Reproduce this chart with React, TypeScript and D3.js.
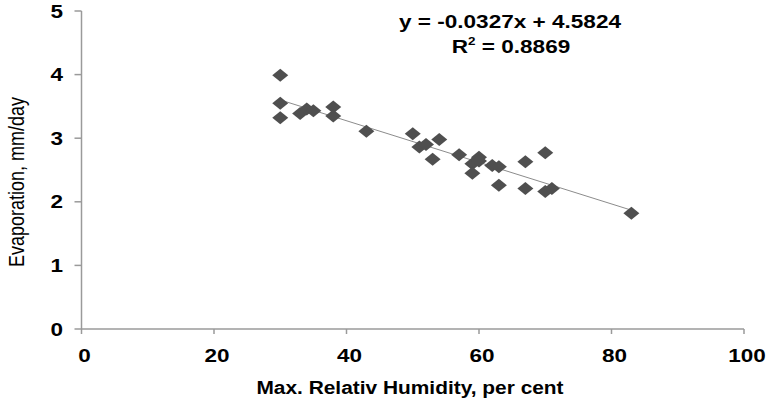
import React, { useEffect, useRef } from 'react';
import * as d3 from 'd3';

const humidity = [30, 30, 30, 33, 34, 35, 38, 38, 43, 50, 51, 52, 53, 54, 57, 59, 59, 60, 60, 62, 63, 63, 67, 67, 70, 70, 71, 83];
const evaporation = [3.99, 3.55, 3.32, 3.39, 3.46, 3.43, 3.49, 3.35, 3.11, 3.07, 2.86, 2.9, 2.67, 2.98, 2.74, 2.6, 2.45, 2.7, 2.64, 2.57, 2.55, 2.26, 2.63, 2.21, 2.77, 2.16, 2.21, 1.82];
const xTicks = [0, 20, 40, 60, 80, 100];
const yTicks = [0, 1, 2, 3, 4, 5];
const slope = -0.0327;
const intercept = 4.5824;
const equationText = 'y = -0.0327x + 4.5824';
const r2Value = '0.8869';

const App: React.FC = () => {
    const containerRef = useRef<HTMLDivElement>(null);

    useEffect(() => {
        if (!containerRef.current) return;
        drawChart();
    }, []);

    const drawChart = () => {
        const width = 766;
        const height = 403;
        const font = '"Liberation Sans", Arial, sans-serif';
        const axisColor = '#9a9a9a';
        // the picture is slightly stretched sideways, so text is too
        const stretch = 1.25;

        const container = d3.select(containerRef.current);
        container.selectAll('*').remove();

        const svg = container
            .append('svg')
            .attr('width', width)
            .attr('height', height)
            .style('display', 'block')
            .style('background', '#fff');

        const x = d3.scaleLinear().domain([0, 100]).range([81.5, 744]);
        const y = d3.scaleLinear().domain([0, 5]).range([329, 11]);

        // axes lines
        svg.append('line')
            .attr('x1', x(0)).attr('x2', x(100))
            .attr('y1', y(0)).attr('y2', y(0))
            .attr('stroke', axisColor).attr('stroke-width', 1.5);
        svg.append('line')
            .attr('x1', x(0)).attr('x2', x(0))
            .attr('y1', y(0)).attr('y2', y(5))
            .attr('stroke', axisColor).attr('stroke-width', 1.5);

        svg.append('g')
            .selectAll('line')
            .data(xTicks)
            .enter()
            .append('line')
            .attr('x1', (d: number) => x(d)).attr('x2', (d: number) => x(d))
            .attr('y1', y(0)).attr('y2', y(0) + 5)
            .attr('stroke', axisColor).attr('stroke-width', 1.5);

        svg.append('g')
            .selectAll('line')
            .data(yTicks)
            .enter()
            .append('line')
            .attr('x1', x(0) - 7).attr('x2', x(0))
            .attr('y1', (d: number) => y(d)).attr('y2', (d: number) => y(d))
            .attr('stroke', axisColor).attr('stroke-width', 1.5);

        svg.append('g')
            .selectAll('text')
            .data(xTicks)
            .enter()
            .append('text')
            .attr('transform', (d: number) => `translate(${x(d) + 3},362) scale(${stretch},1)`)
            .attr('text-anchor', 'middle')
            .style('font-family', font)
            .style('font-size', '18px')
            .style('font-weight', '700')
            .text((d: number) => d);

        svg.append('g')
            .selectAll('text')
            .data(yTicks)
            .enter()
            .append('text')
            .attr('transform', (d: number) => `translate(63,${y(d) + 6.5}) scale(${stretch},1)`)
            .attr('text-anchor', 'end')
            .style('font-family', font)
            .style('font-size', '18px')
            .style('font-weight', '700')
            .text((d: number) => d);

        svg.append('text')
            .attr('transform', `translate(410,394) scale(1.13,1)`)
            .attr('text-anchor', 'middle')
            .style('font-family', font)
            .style('font-size', '18.5px')
            .style('font-weight', '700')
            .text('Max. Relativ Humidity, per cent');

        svg.append('text')
            .attr('transform', `translate(24,182) scale(1.25,1) rotate(-90)`)
            .attr('text-anchor', 'middle')
            .style('font-family', font)
            .style('font-size', '18px')
            .text('Evaporation, mm/day');

        // trend line
        const xMin = d3.min(humidity) as number;
        const xMax = d3.max(humidity) as number;
        svg.append('line')
            .attr('x1', x(xMin)).attr('y1', y(slope * xMin + intercept))
            .attr('x2', x(xMax)).attr('y2', y(slope * xMax + intercept))
            .attr('stroke', '#8c8c8c')
            .attr('stroke-width', 1);

        const points = humidity.map((h, i) => ({ h, e: evaporation[i] }));
        const hw = 8;
        const hh = 6.5;
        const diamond = `M0,${-hh}L${hw},0L0,${hh}L${-hw},0Z`;

        svg.append('g')
            .selectAll('path')
            .data(points)
            .enter()
            .append('path')
            .attr('d', diamond)
            .attr('transform', (d) => `translate(${x(d.h)},${y(d.e)})`)
            .attr('fill', '#4f4f4f');

        // equation
        svg.append('text')
            .attr('transform', `translate(510,28) scale(1.22,1)`)
            .attr('text-anchor', 'middle')
            .style('font-family', font)
            .style('font-size', '18.5px')
            .style('font-weight', '700')
            .text(equationText);

        const r2 = svg.append('text')
            .attr('transform', `translate(511,53) scale(1.22,1)`)
            .attr('text-anchor', 'middle')
            .style('font-family', font)
            .style('font-size', '18.5px')
            .style('font-weight', '700');
        r2.append('tspan').text('R');
        r2.append('tspan').attr('dy', -8).style('font-size', '11px').text('2');
        r2.append('tspan').attr('dy', 8).text(` = ${r2Value}`);
    };

    return <div ref={containerRef} style={{ position: 'absolute', left: 0, top: 0 }}></div>;
};

export default App;
